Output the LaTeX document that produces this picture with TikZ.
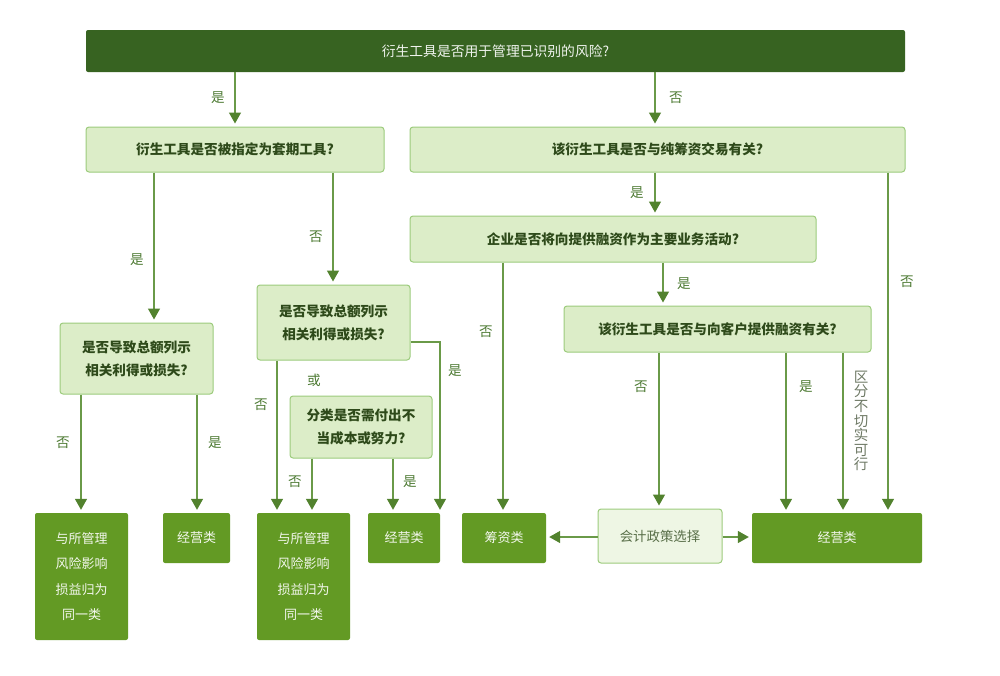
\documentclass[tikz,border=0pt]{standalone}
\usepackage{fontspec}
\newfontfamily\cjk{Noto Sans CJK SC}
\usetikzlibrary{arrows.meta}
\definecolor{topfill}{HTML}{376321}
\definecolor{askfill}{HTML}{DCEDC8}
\definecolor{askline}{HTML}{9CCB7C}
\definecolor{asktext}{HTML}{2E4A1A}
\definecolor{endfill}{HTML}{639A24}
\definecolor{choicefill}{HTML}{EEF6E4}
\definecolor{wire}{HTML}{6A9A48}
\definecolor{tipfill}{HTML}{52822E}
\definecolor{labeltext}{HTML}{4D7A33}
\definecolor{greytext}{HTML}{6F7A66}
\tikzset{
  topbox/.style={fill=topfill, rounded corners=2pt, text=white!92!topfill, font=\cjk\fontsize{13.8}{16}\selectfont, inner sep=0pt},
  ask/.style={draw=askline, fill=askfill, line width=1pt, rounded corners=3pt, text=asktext, font=\cjk\bfseries\fontsize{13.6}{23}\selectfont, align=center, inner sep=0pt},
  endbox/.style={fill=endfill, rounded corners=2pt, text=white!92!endfill, font=\cjk\fontsize{13}{25.5}\selectfont, align=center, inner sep=0pt},
  choice/.style={draw=askline, fill=choicefill, line width=1pt, rounded corners=3pt, text=asktext!80!white, font=\cjk\fontsize{13.4}{16}\selectfont, inner sep=0pt},
  arr/.style={draw=wire, line width=1.4pt, -{Triangle[length=11pt,width=12pt,color=tipfill]}, shorten >=3pt},
  lab/.style={text=labeltext, font=\cjk\fontsize{13.6}{16}\selectfont, inner sep=0pt}
}
\begin{document}
\begin{tikzpicture}[x=1pt,y=-1pt]
  \useasboundingbox (0,0) rectangle (1000,675);
  % questions
  \node[topbox, minimum width=819, minimum height=42] (q0) at (495.5,51) {衍生工具是否用于管理已识别的风险?};
  \node[ask, minimum width=298, minimum height=45] (q1) at (235,149.5) {衍生工具是否被指定为套期工具?};
  \node[ask, minimum width=495, minimum height=45] (q2) at (657.5,149.5) {该衍生工具是否与纯筹资交易有关?};
  \node[ask, minimum width=406, minimum height=46] (q3) at (613,239) {企业是否将向提供融资作为主要业务活动?};
  \node[ask, minimum width=307, minimum height=46] (q4) at (717.5,329) {该衍生工具是否与向客户提供融资有关?};
  \node[ask, minimum width=153, minimum height=71] (q5) at (136.5,358.5) {是否导致总额列示\\相关利得或损失?};
  \node[ask, minimum width=153, minimum height=75] (q6) at (333.5,322.5) {是否导致总额列示\\相关利得或损失?};
  \node[ask, minimum width=142, minimum height=62] (q7) at (361,427) {分类是否需付出不\\当成本或努力?};
  % results
  \node[endbox, minimum width=93, minimum height=127] (r1) at (81.5,576.5) {与所管理\\风险影响\\损益归为\\同一类};
  \node[endbox, minimum width=67, minimum height=50] (r2) at (196.5,538) {经营类};
  \node[endbox, minimum width=93, minimum height=127] (r3) at (303.5,576.5) {与所管理\\风险影响\\损益归为\\同一类};
  \node[endbox, minimum width=72, minimum height=50] (r4) at (404,538) {经营类};
  \node[endbox, minimum width=84, minimum height=50] (r5) at (504,538) {筹资类};
  \node[choice, minimum width=124, minimum height=54] (r6) at (660,536) {会计政策选择};
  \node[endbox, minimum width=170, minimum height=50] (r7) at (837,538) {经营类};
  % connectors
  \draw[arr] (q0.south -| 235,0) -- (q1.north -| 235,0);
  \draw[arr] (q0.south -| 655,0) -- (q2.north -| 655,0);
  \draw[arr] (q2.south -| 655,0) -- (q3.north -| 655,0);
  \draw[arr] (q3.south -| 663,0) -- (q4.north -| 663,0);
  \draw[arr] (q1.south -| 154,0) -- (q5.north -| 154,0);
  \draw[arr] (q1.south -| 333,0) -- (q6.north -| 333,0);
  \draw[arr] (q5.south -| 81,0) -- (r1.north -| 81,0);
  \draw[arr] (q5.south -| 197,0) -- (r2.north -| 197,0);
  \draw[arr] (q6.south -| 277,0) -- (r3.north -| 277,0);
  \draw[arr] (q6.east |- 0,342) -| (r4.north -| 440,0);
  \draw[arr] (q7.south -| 312,0) -- (r3.north -| 312,0);
  \draw[arr] (q7.south -| 393,0) -- (r4.north -| 393,0);
  \draw[arr] (q3.south -| 503,0) -- (r5.north -| 503,0);
  \draw[arr] (q4.south -| 659,0) -- (r6.north -| 659,0);
  \draw[arr] (q4.south -| 786,0) -- (r7.north -| 786,0);
  \draw[arr] (q4.south -| 843,0) -- (r7.north -| 843,0);
  \draw[arr] (q2.south -| 888,0) -- (r7.north -| 888,0);
  \draw[arr] (r6.west |- 0,537) -- (r5.east |- 0,537);
  \draw[arr] (r6.east |- 0,537) -- (r7.west |- 0,537);
  % labels
  \node[lab] (l1) at (218,98) {是};
  \node[lab] (l2) at (676,98) {否};
  \node[lab] (l3) at (637,193) {是};
  \node[lab] (l4) at (684,284) {是};
  \node[lab] (l5) at (137,260) {是};
  \node[lab] (l6) at (316,237) {否};
  \node[lab] (l7) at (63,443) {否};
  \node[lab] (l8) at (215,443) {是};
  \node[lab] (l9) at (261,405) {否};
  \node[lab] (l10) at (455,371) {是};
  \node[lab] (l11) at (314,380) {或};
  \node[lab] (l12) at (295,482) {否};
  \node[lab] (l13) at (410,482) {是};
  \node[lab] (l14) at (486,332) {否};
  \node[lab] (l15) at (641,387) {否};
  \node[lab] (l16) at (806,387) {是};
  \node[lab] (l17) at (907,282) {否};
  \node[lab, text=greytext, align=center, font=\cjk\fontsize{14.5}{14.6}\selectfont] (l18) at (861,421) {区\\分\\不\\切\\实\\可\\行};
\end{tikzpicture}
\end{document}
